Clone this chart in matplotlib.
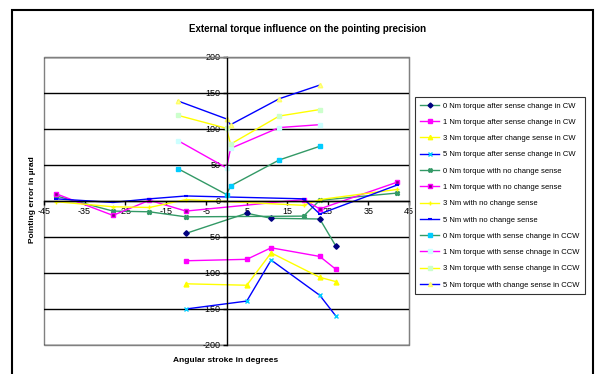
import matplotlib
matplotlib.use("Agg")
import matplotlib.pyplot as plt
from matplotlib.patches import Rectangle

plt.rcParams['font.family'] = ['Liberation Sans', 'DejaVu Sans']
plt.rcParams['axes.unicode_minus'] = False

# x positions (degrees)
x_cw = [-10, 5, 11, 23, 27]
x_nc = [-42, -28, -19, -10, 19, 23, 42]
x_ccw = [-12, 0, 1, 13, 23]

# after sense change in CW
cw_0 = [-45, -17, -24, -25, -63]
cw_1 = [-83, -81, -65, -77, -95]
cw_3 = [-115, -117, -72, -106, -112]
cw_5 = [-150, -139, -82, -131, -160]

# with no change sense
nc_0 = [7, -14, -15, -22, -21, 1, 11]
nc_1 = [10, -20, 1, -14, 2, -11, 26]
nc_3 = [-1, -8, -9, 2, -6, 2, 16]
nc_5 = [3, -2, 3, 7, 3, -18, 22]

# with sense change in CCW
ccw_0 = [45, 9, 21, 57, 76]
ccw_1 = [84, 46, 73, 102, 106]
ccw_3 = [119, 101, 79, 118, 127]
ccw_5 = [139, 114, 106, 142, 161]

labels = [
    "0 Nm torque after sense change in CW",
    "1 Nm torque after sense change in CW",
    "3 Nm torque after change sense in CW",
    "5 Nm torque after sense change in CW",
    "0 Nm torque with no change sense",
    "1 Nm torque with no change sense",
    "3 Nm with no change sense",
    "5 Nm with no change sense",
    "0 Nm torque with sense change in CCW",
    "1 Nm torque with sense chnage in CCW",
    "3 Nm torque with sense change in CCW",
    "5 Nm torque with change sense in CCW",
]

GREEN = '#339966'
MAG = '#ff00ff'
YEL = '#ffff00'
BLUE = '#0000ff'

series = [
    (x_cw, cw_0, GREEN, dict(marker='D', ms=2.8, mfc='#000080', mec='#000080')),
    (x_cw, cw_1, MAG, dict(marker='s', ms=3, mfc=MAG, mec=MAG)),
    (x_cw, cw_3, YEL, dict(marker='^', ms=3.5, mfc=YEL, mec=YEL)),
    (x_cw, cw_5, BLUE, dict(marker='x', ms=3, mec='#00ccff', mew=1)),
    (x_nc, nc_0, GREEN, dict(marker='X', ms=3, mfc=GREEN, mec=GREEN)),
    (x_nc, nc_1, MAG, dict(marker='s', ms=3, mfc='#800080', mec=MAG)),
    (x_nc, nc_3, YEL, dict(marker='+', ms=3.5, mec=YEL, mew=1)),
    (x_nc, nc_5, BLUE, dict(marker='_', ms=3, mec=BLUE, mew=1.5)),
    (x_ccw, ccw_0, GREEN, dict(marker='s', ms=2.5, mfc='#00ccff', mec='#00ccff')),
    (x_ccw, ccw_1, MAG, dict(marker='s', ms=3, mfc='#ccffff', mec='#ccffff')),
    (x_ccw, ccw_3, YEL, dict(marker='s', ms=3, mfc='#ccffcc', mec='#ccffcc')),
    (x_ccw, ccw_5, BLUE, dict(marker='^', ms=3.2, mfc='#ffff99', mec='#ffff66')),
]

fig = plt.figure(figsize=(5.99, 3.74), dpi=100)
ax = fig.add_axes([44 / 599, 29 / 374, 365 / 599, 288 / 374])

for (xs, ys, col, mk), lab in zip(series, labels):
    ax.plot(xs, ys, color=col, lw=1, label=lab, **mk)

ax.set_xlim(-45, 45)
ax.set_ylim(-200, 200)
ax.set_xticks(range(-45, 46, 10))
ax.set_yticks(range(-200, 201, 50))
ax.yaxis.grid(True, color='black', lw=1)
ax.set_axisbelow(True)

# axes crossing at zero, grey plot frame
ax.spines['left'].set_position(('data', 0))
ax.spines['bottom'].set_position(('data', 0))
for s in ['left', 'bottom']:
    ax.spines[s].set_color('black')
    ax.spines[s].set_linewidth(1)
for s in ['top', 'right']:
    ax.spines[s].set_color('#808080')
ax.add_patch(Rectangle((0, 0), 1, 1, transform=ax.transAxes, fill=False,
                       edgecolor='#808080', lw=1, clip_on=False, zorder=0))
ax.tick_params(labelsize=6.5, length=3, width=1, pad=1.5)

fig.text(308 / 599, 1 - 29 / 374, "External torque influence on the pointing precision",
         fontsize=7, fontweight='bold', ha='center', va='center')
fig.text(226 / 599, 1 - 360 / 374, "Angular stroke in degrees", fontsize=6,
         fontweight='bold', ha='center', va='center')
fig.text(33 / 599, 1 - 200 / 374, "Pointing error in µrad", fontsize=6,
         fontweight='bold', ha='center', va='center', rotation=90)

leg = fig.legend(loc='upper left', bbox_to_anchor=(411 / 599, 1 - 93 / 374),
                 fontsize=5.5, frameon=True, fancybox=False, edgecolor='black',
                 labelspacing=1.17, handlelength=2.5, borderpad=0.7,
                 handletextpad=0.5, markerscale=0.9)
leg.get_frame().set_linewidth(0.8)

# outer chart border
fig.patches.append(Rectangle((12 / 599, -0.05), 581 / 599, 1.05 - 10 / 374,
                             transform=fig.transFigure, fill=False,
                             edgecolor='black', lw=1.5))

fig.savefig("out.png", dpi=100)
